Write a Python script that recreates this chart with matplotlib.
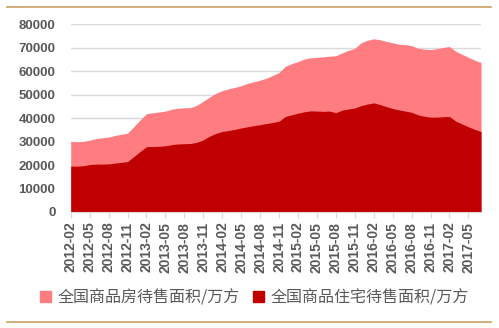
import numpy as np
import matplotlib.pyplot as plt
from matplotlib.patches import Patch
from matplotlib.lines import Line2D

# 数据: 2012-02 ~ 2017-07 月度
months = [f"{y}-{m:02d}" for y in range(2012, 2018) for m in range(1, 13)]
months = months[1:months.index("2017-07") + 1]

total = [30100, 29900, 30100, 30600, 31300, 31600, 31900, 32600, 33100, 33600,
         36400, 39200, 41900, 42300, 42600, 43000, 43800, 44200, 44400, 44500,
         45500, 47200, 49000, 50600, 51700, 52500, 53100, 53800, 54800, 55500,
         56200, 57000, 58200, 59400, 62100, 63200, 64100, 65200, 65700, 65900,
         66100, 66400, 66600, 67800, 68900, 69700, 72100, 73200, 73800, 73400,
         72700, 72100, 71500, 71300, 70900, 69800, 69400, 69200, 69600, 70100,
         70500, 68500, 67200, 65900, 64700, 63700]
housing = [19600, 19500, 19700, 20200, 20400, 20400, 20500, 20800, 21100, 21500,
           23600, 25800, 27800, 27900, 28000, 28200, 28700, 29000, 29100, 29200,
           29700, 30700, 32300, 33500, 34300, 34700, 35200, 35800, 36300, 36800,
           37200, 37700, 38100, 38700, 40700, 41400, 42100, 42700, 43100, 43000,
           42900, 43000, 42300, 43400, 43900, 44300, 45300, 46000, 46500, 45800,
           44900, 44100, 43500, 43000, 42500, 41400, 40800, 40400, 40400, 40600,
           40700, 38700, 37500, 36300, 35200, 34300]
labels = ["全国商品房待售面积/万方", "全国商品住宅待售面积/万方"]

c_total = "#FF7C80"
c_house = "#C00000"
grey = "#595959"
gold = "#C9A063"

fig = plt.figure(figsize=(4.99, 3.28), dpi=100)
ax = fig.add_axes([0.1417, 0.3537, 0.8223, 0.5723])

x = np.arange(len(months))
ax.fill_between(x, 0, total, color=c_total, linewidth=0)
ax.fill_between(x, 0, housing, color=c_house, linewidth=0)

ax.set_xlim(0, len(months) - 1)
ax.set_ylim(0, 80000)
ax.set_yticks(range(0, 80001, 10000))
ax.grid(axis="y", color="#D9D9D9", linewidth=1)
ax.set_axisbelow(True)

ax.set_xticks(x[::3])
ax.set_xticklabels(months[::3], rotation=90)
for s in ["top", "right", "left"]:
    ax.spines[s].set_visible(False)
ax.spines["bottom"].set_color("#D9D9D9")
ax.tick_params(axis="x", length=4, color="#D9D9D9", pad=3, labelsize=10)
ax.tick_params(axis="y", length=0, pad=11, labelsize=9.5)
for t in ax.get_xticklabels() + ax.get_yticklabels():
    t.set_fontfamily("Liberation Sans")
    t.set_fontweight("bold")
    t.set_color(grey)

handles = [Patch(color=c_total), Patch(color=c_house)]
fig.legend(handles, labels, loc="center", bbox_to_anchor=(0.51, 0.092), ncol=2,
           frameon=False, handlelength=0.7, handleheight=0.7, handletextpad=0.4,
           columnspacing=0.8, prop={"family": ["Noto Sans CJK SC", "DejaVu Sans"], "size": 11.5},
           labelcolor=grey)

# 上下装饰线
fig.add_artist(Line2D([7 / 499, 491 / 499], [1 - 7.3 / 328] * 2, color=gold, lw=1.2))
fig.add_artist(Line2D([7 / 499, 491 / 499], [1 - 321.7 / 328] * 2, color=gold, lw=1.2))

fig.savefig("out.png", dpi=100)
